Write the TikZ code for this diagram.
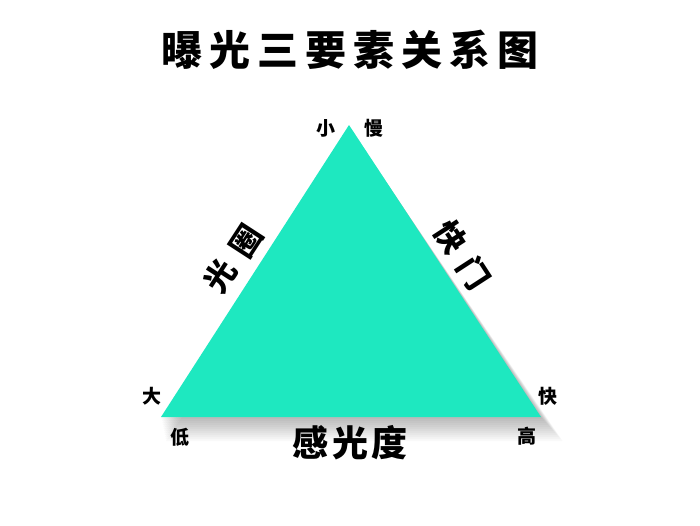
\documentclass[tikz,border=0pt]{standalone}
\usepackage{fontspec}
\newfontfamily\cjk{Noto Sans CJK SC}
\definecolor{tri}{RGB}{30,232,192}
\begin{document}
\begin{tikzpicture}[x=1pt,y=-1pt,
  lbl/.style={font=\cjk\bfseries\fontsize{19}{19}\selectfont, inner sep=0pt},
  side/.style={font=\cjk\bfseries\fontsize{31}{31}\selectfont, inner sep=0pt}]
\useasboundingbox[fill=white] (0,0) rectangle (700,525);
\coordinate (A) at (349,125);
\coordinate (L) at (161,417);
\coordinate (R) at (541,417);
% soft shadow
\foreach \d in {2,4,...,24}{
  \fill[black,opacity=0.022] ([shift={(\d*0.6,\d)}]A) -- ([shift={(\d*0.2,\d)}]L) -- ([shift={(\d*0.9,\d)}]R) -- cycle;
}
\fill[tri] (A) -- (L) -- (R) -- cycle;
\node[font=\cjk\bfseries\fontsize{41}{41}\selectfont, inner sep=0pt] (title) at (350,50) {曝\hspace{7pt}光\hspace{7pt}三\hspace{7pt}要\hspace{7pt}素\hspace{7pt}关\hspace{7pt}系\hspace{7pt}图};
\node[lbl] (small) at (326,128) {小};
\node[lbl] (slow) at (374,128) {慢};
\node[lbl] (big) at (152,396) {大};
\node[lbl] (low) at (180,437) {低};
\node[lbl] (fast) at (548,396) {快};
\node[lbl] (high) at (527,436) {高};
\node[side, rotate=57] (ap1) at (220,276) {光};
\node[side, rotate=57] (ap2) at (246,241) {圈};
\node[side, rotate=-57] (sh1) at (451,237) {快};
\node[side, rotate=-57] (sh2) at (474,273) {门};
\node[font=\cjk\bfseries\fontsize{36}{36}\selectfont, inner sep=0pt] (iso) at (350,443) {感\hspace{4pt}光\hspace{4pt}度};
\end{tikzpicture}
\end{document}
